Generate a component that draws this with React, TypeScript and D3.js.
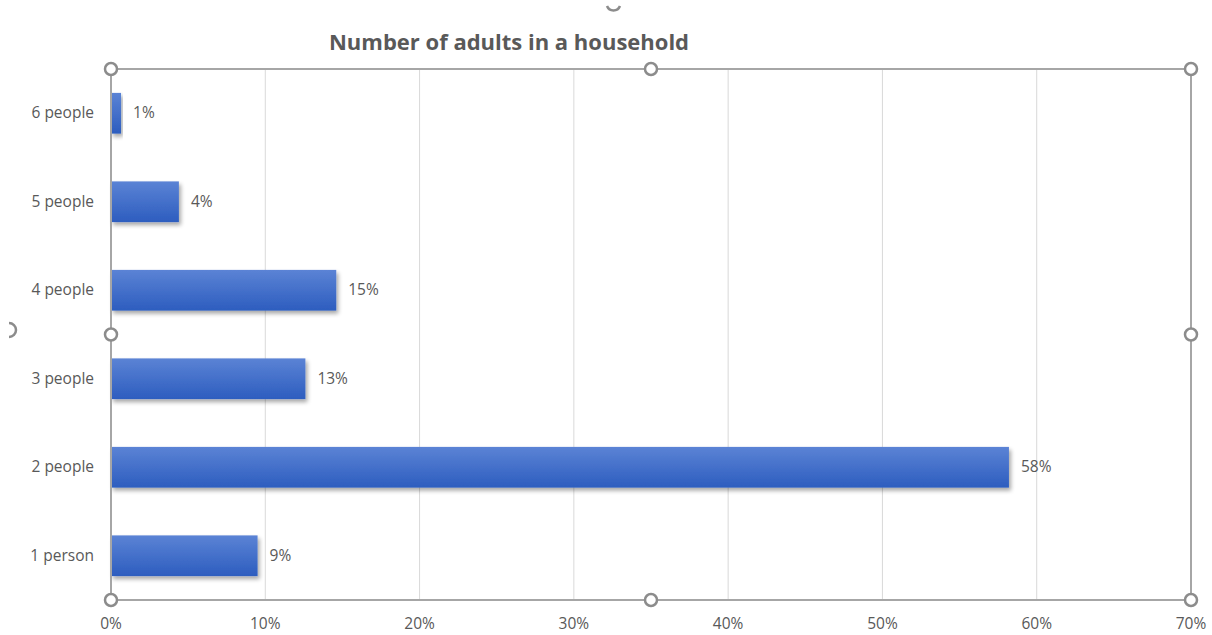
import React from "react";
import * as d3 from "d3";

const categories = ["6 people", "5 people", "4 people", "3 people", "2 people", "1 person"];
const values = [0.65, 4.4, 14.6, 12.6, 58.2, 9.5];
const labels = ["1%", "4%", "15%", "13%", "58%", "9%"];
const xTicks = [0, 10, 20, 30, 40, 50, 60, 70];
const title = "Number of adults in a household";

const W = 1212, H = 635;
const left = 111, right = 1191, top = 69, bottom = 600;
const FONT = "'Open Sans', sans-serif";
const GRAY = "#595959";
const FS = 15.5;

export default function App() {
  const x = d3.scaleLinear().domain([0, 70]).range([left, right]);
  const y = d3.scaleBand<string>().domain(categories).range([top, bottom]).paddingInner(0.54).paddingOuter(0.27);
  const handles: [number, number][] = [
    [left, top], [(left + right) / 2, top], [right, top],
    [left, (top + bottom) / 2], [right, (top + bottom) / 2],
    [left, bottom], [(left + right) / 2, bottom], [right, bottom],
  ];
  return (
    <svg width={W} height={H} style={{ position: "absolute", left: 0, top: 0, background: "#fff" }} fontFamily={FONT}>
      <defs>
        <linearGradient id="barGrad" x1="0" y1="0" x2="0" y2="1">
          <stop offset="0" stopColor="#5b83d5" />
          <stop offset="1" stopColor="#2d5dbf" />
        </linearGradient>
        <filter id="shadow" x="-5%" y="-20%" width="115%" height="160%">
          <feGaussianBlur in="SourceAlpha" stdDeviation="2" />
          <feOffset dx="2" dy="3" result="b" />
          <feComponentTransfer><feFuncA type="linear" slope="0.35" /></feComponentTransfer>
          <feMerge><feMergeNode /><feMergeNode in="SourceGraphic" /></feMerge>
        </filter>
      </defs>
      <text x={509} y={50} textAnchor="middle" fontSize={22} fontWeight="bold" fill={GRAY}>{title}</text>
      {xTicks.slice(1, -1).map((t) => (
        <line key={t} x1={x(t)} x2={x(t)} y1={top} y2={bottom} stroke="#d9d9d9" strokeWidth={1} />
      ))}
      {xTicks.map((t) => (
        <text key={t} x={x(t)} y={629} textAnchor="middle" fontSize={FS} fill={GRAY}>{t}%</text>
      ))}
      {categories.map((c, i) => (
        <g key={c}>
          <rect x={x(0)} y={y(c)!} width={x(values[i]) - x(0)} height={y.bandwidth()} fill="url(#barGrad)" filter="url(#shadow)" />
          <text x={x(values[i]) + 12} y={y(c)! + y.bandwidth() / 2 + 5} fontSize={FS} fill={GRAY}>{labels[i]}</text>
          <text x={94} y={y(c)! + y.bandwidth() / 2 + 5} textAnchor="end" fontSize={FS} fill={GRAY}>{c}</text>
        </g>
      ))}
      <rect x={left} y={top} width={right - left} height={bottom - top} fill="none" stroke="#a6a6a6" strokeWidth={2} />
      {handles.map(([hx, hy], i) => (
        <circle key={i} cx={hx} cy={hy} r={6} fill="#fff" stroke="#8c8c8c" strokeWidth={2.5} />
      ))}
      <path d="M607,6 A7,7 0 0 0 620,6" fill="none" stroke="#8c8c8c" strokeWidth={2.5} />
      <path d="M9,323 A7,7 0 0 1 9,337" fill="none" stroke="#8c8c8c" strokeWidth={2.5} />
    </svg>
  );
}
